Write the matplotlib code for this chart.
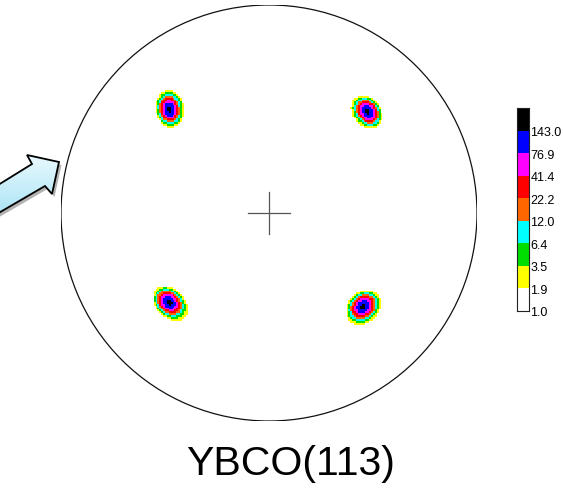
import numpy as np
import matplotlib
matplotlib.use("Agg")
import matplotlib.pyplot as plt
from matplotlib.colors import ListedColormap, BoundaryNorm, LinearSegmentedColormap
from matplotlib.patches import Circle, Polygon

plt.rcParams['font.family'] = ['Liberation Sans', 'DejaVu Sans']

# ---- contour levels and colours (pole figure intensity, m.r.d.) ----
levels = [1.0, 1.9, 3.5, 6.4, 12.0, 22.2, 41.4, 76.9, 143.0]
level_colors = ['#ffffff', '#ffff00', '#00dd00', '#00ffff', '#ff6600',
                '#ff0000', '#ff00ff', '#0000ff', '#000000']

# ---- YBCO(113) poles: positions on the projection disc (unit radius) ----
peak_x = [-0.481, 0.476, -0.481, 0.455]
peak_y = [0.500, 0.490, -0.433, -0.452]
peak_height = [155.0, 158.0, 152.0, 160.0]
core_sig_major = [0.027, 0.026, 0.027, 0.027]
core_sig_minor = [0.020, 0.020, 0.021, 0.022]
wing_height = [7.5, 7.5, 8.0, 8.0]
wing_sig_major = [0.050, 0.047, 0.054, 0.050]
wing_sig_minor = [0.035, 0.033, 0.036, 0.038]
peak_angle = [100.0, -55.0, -45.0, 45.0]
wing_dx = [0.006, -0.012, 0.008, 0.004]
wing_dy = [0.006, -0.006, -0.006, -0.008]
# weaker satellite lobes that skew each pole's outline
lobe_dx = [0.020, -0.022, -0.022, -0.026]
lobe_dy = [0.030, 0.010, 0.022, -0.014]
lobe_height = [3.0, 3.0, 3.5, 3.0]
lobe_sig = [0.020, 0.018, 0.020, 0.020]

title = "YBCO(113)"


def aniso_gauss(X, Y, x0, y0, h, sa, sb, ang):
    t = np.deg2rad(ang)
    u = (X - x0) * np.cos(t) + (Y - y0) * np.sin(t)
    v = -(X - x0) * np.sin(t) + (Y - y0) * np.cos(t)
    return h * np.exp(-0.5 * ((u / sa) ** 2 + (v / sb) ** 2))


n = 220
g = np.linspace(-1, 1, n)
X, Y = np.meshgrid(g, g)
Z = np.zeros_like(X)
for i in range(len(peak_x)):
    Z += aniso_gauss(X, Y, peak_x[i], peak_y[i], peak_height[i],
                     core_sig_major[i], core_sig_minor[i], peak_angle[i])
    Z += aniso_gauss(X, Y, peak_x[i] + wing_dx[i], peak_y[i] + wing_dy[i],
                     wing_height[i], wing_sig_major[i], wing_sig_minor[i],
                     peak_angle[i])
    Z += aniso_gauss(X, Y, peak_x[i] + lobe_dx[i], peak_y[i] + lobe_dy[i],
                     lobe_height[i], lobe_sig[i], lobe_sig[i], 0.0)

W, H = 563, 489
fig = plt.figure(figsize=(W / 100, H / 100), dpi=100)
fig.patch.set_facecolor('white')

# ---- pole figure disc ----
cx, cy, R = 269, 214, 208
ax = fig.add_axes([(cx - R) / W, (H - cy - R) / H, 2 * R / W, 2 * R / H])
ax.set_xlim(-1, 1)
ax.set_ylim(-1, 1)
ax.set_aspect('equal')
ax.axis('off')

cmap = ListedColormap(level_colors)
bounds = [0.0] + levels[1:] + [1e6]
norm = BoundaryNorm(bounds, cmap.N)
im = ax.imshow(Z, extent=[-1, 1, -1, 1], origin='lower', cmap=cmap,
               norm=norm, interpolation='nearest')
rim = Circle((0, 0), 1.0, fill=False, ec='#111111', lw=0.9)
ax.add_patch(rim)
im.set_clip_path(rim)
ax.plot([-0.1, 0.1], [0, 0], color='#555555', lw=0.9)
ax.plot([0, 0], [-0.1, 0.1], color='#555555', lw=0.9)

# ---- colour scale ----
cax = fig.add_axes([517 / W, (H - 312) / H, 12 / W, 203 / H])
for i, c in enumerate(level_colors):
    cax.bar(0, 1, bottom=i, width=1, color=c, edgecolor='none')
cax.set_xlim(-0.5, 0.5)
cax.set_ylim(0, len(level_colors))
cax.set_xticks([])
cax.yaxis.tick_right()
cax.set_yticks(range(len(levels)))
cax.set_yticklabels([f"{v:.1f}" for v in levels])
cax.tick_params(axis='y', length=0, pad=1, labelsize=9)
for s in cax.spines.values():
    s.set_linewidth(0.8)
    s.set_color('#222222')

# ---- highlight arrow ----
ov = fig.add_axes([0, 0, 1, 1], zorder=5)
ov.patch.set_alpha(0)
arrow_pts = [(-10, 191), (32, 165), (27, 156), (59, 163),
             (52, 195), (45, 187), (-10, 219)]
shadow = Polygon([(x + 2.5, y + 3) for x, y in arrow_pts], closed=True,
                 fc='#555555', ec='none', alpha=0.45, zorder=1)
ov.add_patch(shadow)
body = Polygon(arrow_pts, closed=True, fc='none', ec='black', lw=1.3,
               joinstyle='miter', zorder=3)
ov.add_patch(body)
grad = np.linspace(0, 1, 64).reshape(-1, 1)
acmap = LinearSegmentedColormap.from_list('a', ['#eefbfe', '#a6e2f5'])
gi = ov.imshow(grad, extent=[-10, 62, 222, 150], cmap=acmap,
               aspect='auto', zorder=2)
gi.set_clip_path(body)
ov.set_xlim(0, W)
ov.set_ylim(H, 0)
ov.axis('off')

fig.text(291 / W, 1 - 475 / H, title, ha='center', va='baseline',
         fontsize=29.5, color='black')

fig.savefig('out.png', dpi=100)
